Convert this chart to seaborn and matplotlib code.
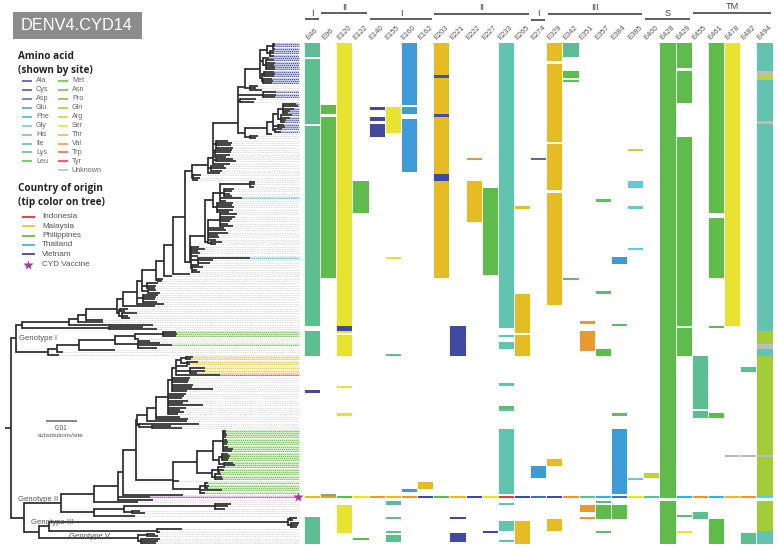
import matplotlib
matplotlib.use("Agg")
import matplotlib.pyplot as plt
from matplotlib.colors import ListedColormap
from matplotlib.patches import Rectangle
import numpy as np
import seaborn as sns

sns.set_style("white")
plt.rcParams['font.family'] = ['Liberation Sans', 'DejaVu Sans']

W, H = 779, 551
N_TIPS = 218

# ---------- amino acids ----------
AMINO = ["Ala", "Cys", "Asp", "Glu", "Phe", "Gly", "His", "Ile", "Lys", "Leu",
         "Met", "Asn", "Pro", "Gln", "Arg", "Ser", "Thr", "Val", "Trp", "Tyr", "Unknown"]
AMINO_COL = ["#3f4aa0", "#41509f", "#4a6db5", "#3f9ad8", "#2fb4e0", "#66c8d8", "#62c3ae",
             "#5dbe91", "#62bb6a", "#5fbb4b", "#5fbb4b", "#68bc45", "#7bbd3e", "#a3cc39",
             "#bed33a", "#e8e32f", "#e6bc25", "#e89a30", "#e8603a", "#e23b3b", "#bcbcbc"]

SITES = ["E46", "E96", "E120", "E122", "E140", "E155", "E160", "E162", "E203", "E221",
         "E222", "E227", "E233", "E265", "E274", "E329", "E342", "E351", "E357", "E384",
         "E385", "E400", "E428", "E429", "E455", "E461", "E478", "E482", "E494"]

# runs of tips per site: (first tip, last tip + 1, residue)
E46 = [(0, 6, "Ile"), (7, 35, "Ile"), (36, 123, "Ile"), (125, 136, "Ile"), (151, 152, "Ala"),
       (197, 198, "Thr"), (206, 218, "Ile")]
E96 = [(27, 31, "Leu"), (32, 102, "Leu"), (196, 197, "Lys"), (197, 198, "Val")]
E120 = [(0, 123, "Ser"), (123, 125, "Ala"), (125, 126, "Ser"), (127, 136, "Ser"), (149, 150, "Ser"),
        (161, 162, "Ser"), (197, 198, "Leu"), (201, 213, "Ser")]
E122 = [(60, 74, "Leu"), (197, 198, "Ser"), (215, 216, "Leu")]
E140 = [(28, 29, "Ala"), (32, 34, "Ala"), (35, 41, "Ala"), (197, 198, "Val")]
E155 = [(28, 39, "Ser"), (93, 94, "Ser"), (135, 136, "Ile"), (197, 198, "Thr"), (199, 201, "Ile"),
        (206, 207, "Ile"), (212, 213, "Ile"), (214, 217, "Ile")]
E160 = [(0, 27, "Glu"), (28, 31, "Glu"), (33, 56, "Glu"), (194, 195, "Glu"), (197, 198, "Val")]
E162 = [(191, 194, "Thr"), (197, 198, "Ala")]
E203 = [(0, 14, "Thr"), (14, 15, "Cys"), (15, 31, "Thr"), (31, 32, "Cys"), (32, 57, "Thr"),
        (57, 60, "Ala"), (60, 102, "Thr"), (197, 198, "Leu")]
E221 = [(123, 136, "Ala"), (197, 198, "Thr"), (206, 207, "Ala"), (213, 217, "Ala")]
E222 = [(50, 51, "Val"), (60, 78, "Thr"), (197, 198, "Ala")]
E227 = [(63, 101, "Leu"), (197, 198, "Ser"), (212, 213, "Ala")]
E233 = [(0, 124, "His"), (127, 128, "His"), (130, 133, "His"), (148, 149, "His"), (158, 159, "Lys"),
        (159, 160, "His"), (168, 196, "His"), (197, 198, "Tyr"), (200, 201, "His"), (208, 212, "His"),
        (216, 217, "His")]
E265 = [(71, 72, "Thr"), (109, 126, "Thr"), (127, 136, "Thr"), (197, 198, "Ala"), (208, 218, "Thr")]
E274 = [(50, 51, "Asp"), (184, 189, "Glu"), (197, 198, "Asp")]
E329 = [(0, 8, "Thr"), (9, 43, "Thr"), (44, 64, "Thr"), (65, 114, "Thr"), (181, 184, "Thr"),
        (197, 198, "Ala"), (207, 212, "Thr")]
E342 = [(0, 6, "Ile"), (12, 15, "Leu"), (16, 17, "Lys"), (102, 103, "Lys"), (197, 198, "Val")]
E351 = [(121, 122, "Val"), (125, 134, "Val"), (197, 198, "Ile"), (201, 204, "Val"), (206, 207, "Val")]
E357 = [(68, 69, "Lys"), (108, 109, "Lys"), (133, 136, "Leu"), (197, 198, "Phe"), (199, 200, "Lys"),
        (201, 207, "Leu"), (212, 213, "Lys")]
E384 = [(93, 96, "Glu"), (122, 123, "Lys"), (161, 162, "Lys"), (168, 196, "Glu"), (197, 198, "Asp"),
        (201, 207, "Leu")]
E385 = [(46, 47, "Arg"), (60, 63, "Gly"), (71, 72, "Gly"), (89, 90, "Gly"), (189, 190, "Gly"),
        (197, 198, "Ser")]
E400 = [(187, 189, "Arg"), (197, 198, "Ile")]
E428 = [(0, 198, "Leu"), (199, 218, "Leu")]
E429 = [(0, 11, "Leu"), (12, 26, "Leu"), (41, 123, "Leu"), (124, 136, "Leu"), (197, 198, "Phe"),
        (205, 206, "Lys"), (212, 213, "Ser")]
E455 = [(136, 159, "Ile"), (160, 163, "Ile"), (197, 198, "Val"), (204, 207, "Ile")]
E461 = [(0, 74, "Leu"), (76, 102, "Leu"), (123, 124, "Leu"), (161, 163, "Leu"), (197, 198, "Phe"),
        (207, 218, "Leu")]
E478 = [(0, 123, "Ser"), (179, 180, "Unknown"), (197, 198, "Thr")]
E482 = [(141, 143, "Ile"), (179, 180, "Unknown"), (197, 198, "Val"), (213, 218, "Ile")]
E494 = [(0, 12, "His"), (12, 14, "Unknown"), (14, 16, "Arg"), (16, 34, "His"), (34, 35, "Unknown"),
        (35, 125, "His"), (125, 131, "Gln"), (131, 133, "Unknown"), (133, 136, "His"), (136, 179, "Gln"),
        (179, 180, "Unknown"), (180, 197, "Gln"), (197, 198, "Gly"), (199, 212, "Gln"), (212, 218, "His")]
SITE_RUNS = [E46, E96, E120, E122, E140, E155, E160, E162, E203, E221, E222, E227, E233, E265, E274,
             E329, E342, E351, E357, E384, E385, E400, E428, E429, E455, E461, E478, E482, E494]

# ---------- sections above the sites: (label, first site, last site) ----------
SECTION_LABELS = ["I", "II", "I", "II", "I", "III", "S", "TM"]
SECTION_SPANS = [(0, 0), (1, 3), (4, 7), (8, 13), (14, 14), (15, 20), (21, 23), (24, 28)]

# ---------- tip countries ----------
COUNTRIES = ["Indonesia", "Malaysia", "Philippines", "Thailand", "Vietnam"]
COUNTRY_COL = ["#e5333c", "#ecc733", "#6cbd45", "#3fbcd8", "#3f4aa0"]
VACCINE_COL = "#a63ba0"
indonesia_tips = [144]
malaysia_tips = [136, 137, 138, 139, 141, 142, 143]
philippines_tips = [125, 126, 127, 131] + list(range(168, 190)) + list(range(191, 196))
thailand_tips = [67, 93]
vietnam_tips = list(range(0, 18)) + [21, 22, 23] + list(range(26, 39))
COUNTRY_TIPS = [indonesia_tips, malaysia_tips, philippines_tips, thailand_tips, vietnam_tips]
VACCINE_TIP = 197

# ---------- tree: [node depth or (depth, attach fraction), children...]; a bare number is a tip depth ----------
U1 = [(260, 0.7), [267, [273, 275, 275, 275], [270, 274, 274, 274]], [263, 269, [266, 274, 275, 274, 275, 275]],
      [262, [264, 274, 275, 274], [263, 272, 273, 272]]]
N245 = [(245, 0.95), U1, [250, 258, 256, 262]]
U2 = [263, 276, 276, 275]
U3 = [273, [278, [283, 296, 298, 294, 290, 288], [281, 292, 290, 286, 285]], [278, 284, 285], [275, 282, 281]]
V_B = [245, [267, U3, 272], [250, 258, 256]]
N238 = [(238, 0.8), N245, U2, [240, 256, 254], V_B]
N213 = [(213, 0.85), N238, [216, 228, 232, 231, 233], [215, 232, 231, 230], 226, [216, 233, 236], 230]
N208 = [208, N213, [211, 224, 226, 222], 220]
D = [192, N208, [193, 201, 200, 198]]
E1 = [213, [220, [250, 255, 255, 254], [224, 234, 232, 230, 232], 242, 226], [217, 233, 232, 234, 233, 229]]
E2 = [(208, 0.95), [220, 237, 235, 232, 230, 228, 233], 224, 226, 228, 218, 219, 216, [211, 222, 216]]
EE = [(205, 0.87), E1, E2]
F = [(191, 0.7), 199, 205, 198, 200, 198, [198, 250, 213, 210], [192, 199, 203, 197, 200]]
N190 = [(190, 1.0), EE, F]
N185 = [185, D, N190]
N173 = [173, N185, 190]
N164 = [164, N173, 172]
N156 = [156, N164, [158, 163, 162]]
N142 = [142, N156, [147, 158, 156, 155], [148, 156, 160]]
N137 = [137, N142, [143, 158, 156, 155, 157], 164]
N123a = [123, N137, 155]
N119 = [119, [120, 128, 125], [122, 137, 128, 130]]
N117 = [(117, 0.75), N123a, N119]
N86 = [86, N117, 103]
N78 = [78, N86, 103]
N69 = [69, N78, 153]
N22 = [22, N69, [109, 143, 157]]
GI = [48, [57, [79, [115, [135, [163, 176, 177, 176], 139], [138, 150, 160, 172, 157]], 115], 63], 59]
N16 = [16, N22, GI]

H1 = [176, [181, [186, 193, 191], [187, 198, 190]], 188, [190, 205, 205, 197], 220]
N172 = [172, H1, 190, 189, 188, 193, 192, 213, 187]
N168 = [168, N172, 186, 184, 182, 188, 183, 203, 186, 180, 184, 178]
N156b = [156, N168, 180, 188]
N147 = [147, N156b, 187]
N137b = [137, N147, [139, 199, [152, 171, 182]]]
P1 = [213, [223, 226, 226, 227, 226, 227, 228, 227, 228, 233, 232],
      [219, [222, 228, 230, 229, 228], [224, 233, 235]]]
P2 = [212, [218, 225, 224, 220], [215, 221, 222, 223]]
P3 = [200, [205, 208, 209, 208], 222, 205]
N173b = [(173, 0.65), [197, P1, P2], 179, P3]
N136 = [136, N137b, N173b]
N123b = [123, N136, 183]
N118 = [118, N123b, 150, 153]
N94a = [94, N118, 138]
N94b = [94, [124, [215, 231, 228, 225], [132, 140, 145]], 135]
N61 = [61, N94a, N94b]
G3 = [288, [290, 297, 293], [291, 299, 298, 297]]
N39 = [39, [49, G3, [157, 182, 160]], [138, [147, 155, 158], [141, 160, 158, 156]]]
N24 = [24, N61, N39]
ROOT = [11, N16, N24]
ROOT_STEM = 5
LEADER_END = 299

# ---------- legend text ----------
AMINO_TITLE = ["Amino acid", "(shown by site)"]
COUNTRY_TITLE = ["Country of origin", "(tip color on tree)"]
GENOTYPES = ["Genotype I", "Genotype II", "Genotype III", "Genotype V"]
CHART_TITLE = "DENV4.CYD14"

# ---------- figure ----------
fig = plt.figure(figsize=(W / 100, H / 100), dpi=100, facecolor="white")
TOP, BOTTOM = 43, 544.4
def rect(l, t, r, b):
    return [l / W, 1 - b / H, (r - l) / W, (b - t) / H]

# site matrix through seaborn's heatmap
matrix = np.full((N_TIPS, len(SITES)), np.nan)
for col, runs in enumerate(SITE_RUNS):
    for a, b, res in runs:
        matrix[a:b, col] = AMINO.index(res)
col_w = 16.16
ax_h = fig.add_axes(rect(312 - col_w / 2, TOP, 312 + col_w * 28.5, BOTTOM))
sns.heatmap(matrix, ax=ax_h, cmap=ListedColormap(AMINO_COL), vmin=-0.5, vmax=len(AMINO) - 0.5,
            cbar=False, xticklabels=SITES, yticklabels=False)
ax_h.tick_params(top=True, bottom=False, labeltop=True, labelbottom=False, length=0, pad=1.5)
for lab in ax_h.get_xticklabels():
    lab.set_rotation(45)
    lab.set_ha("center")
    lab.set_va("bottom")
    lab.set_fontsize(5.4)
    lab.set_color("#555555")
ax_h.vlines(np.arange(len(SITES) + 1), 0, N_TIPS, color="white", lw=0.65)
ax_h.set_facecolor("white")
for s in ax_h.spines.values():
    s.set_visible(False)

# tree
ax_t = fig.add_axes(rect(0, TOP, 303, BOTTOM))
ax_t.set_xlim(0, 303)
ax_t.set_ylim(N_TIPS, 0)
ax_t.axis("off")
TREE_COL = "#2b2b2b"
TREE_LW = 1.25
next_tip = [0]
tip_depth = {}
def layout(node, parent_x):
    if not isinstance(node, list):
        r = next_tip[0]
        next_tip[0] += 1
        y = r + 0.5
        tip_depth[r] = node
        ax_t.plot([parent_x, node], [y, y], color=TREE_COL, lw=TREE_LW, solid_capstyle="butt", zorder=3)
        return y
    x, frac = node[0] if isinstance(node[0], tuple) else (node[0], 0.5)
    ys = [layout(c, x) for c in node[1:]]
    y = ys[0] + frac * (ys[-1] - ys[0])
    ax_t.plot([x, x], [ys[0], ys[-1]], color=TREE_COL, lw=TREE_LW, solid_capstyle="projecting", zorder=3)
    ax_t.plot([parent_x, x], [y, y], color=TREE_COL, lw=TREE_LW, solid_capstyle="butt", zorder=3)
    return y
layout(ROOT, ROOT_STEM)
assert next_tip[0] == N_TIPS, next_tip[0]

tip_color = {}
for col, tips in zip(COUNTRY_COL, COUNTRY_TIPS):
    for t in tips:
        tip_color[t] = col
tip_color[VACCINE_TIP] = VACCINE_COL
for r in range(N_TIPS):
    y = r + 0.5
    if r in tip_color:
        ax_t.plot([tip_depth[r], LEADER_END], [y, y], color=tip_color[r], lw=1.5, alpha=0.28,
                  solid_capstyle="butt", zorder=1)
        ax_t.plot([tip_depth[r], LEADER_END], [y, y], color=tip_color[r], lw=0.7, ls=(0, (1, 1)), zorder=2)
    else:
        ax_t.plot([tip_depth[r], LEADER_END], [y, y], color="#cfcfcf", lw=0.6, ls=(0, (1, 1)), zorder=1)
ax_t.plot([LEADER_END - 1], [VACCINE_TIP + 0.5], marker="*", ms=7, color=VACCINE_COL, mec="none", zorder=4)

# page overlay
ax = fig.add_axes([0, 0, 1, 1])
ax.set_xlim(0, W)
ax.set_ylim(H, 0)
ax.axis("off")
ax.patch.set_alpha(0)

ax.add_patch(Rectangle((13, 12), 129, 27, color="#8c8c8c", lw=0))
ax.text(21, 26, CHART_TITLE, color="white", fontsize=11.8, va="center", ha="left")

BOLD = dict(family=["Open Sans", "DejaVu Sans"], fontweight="bold", color="#222222", fontsize=7.2, va="center")
ax.text(18.5, 56.5, AMINO_TITLE[0], **BOLD)
ax.text(18.5, 70, AMINO_TITLE[1], **BOLD)
ax.text(18.5, 188.5, COUNTRY_TITLE[0], **BOLD)
ax.text(18.5, 202, COUNTRY_TITLE[1], **BOLD)

for i, (name, col) in enumerate(zip(AMINO, AMINO_COL)):
    c = 0 if i < 10 else 1
    r = i if i < 10 else i - 10
    x0 = 22 if c == 0 else 58
    y = 81 + 8.93 * r
    ax.plot([x0, x0 + 10.5], [y, y], color=col, lw=1.1, solid_capstyle="butt")
    ax.text(x0 + 14, y, name, color="#666666", fontsize=5.2, va="center")

for i, (name, col) in enumerate(zip(COUNTRIES, COUNTRY_COL)):
    y = 216.7 + 9.42 * i
    ax.plot([22, 35], [y, y], color=col, lw=1.3, solid_capstyle="butt")
    ax.text(42, y, name, color="#555555", fontsize=5.9, va="center")
ax.plot([28.5], [264.7], marker="*", ms=7.5, color=VACCINE_COL, mec="none")
ax.text(42, 264.7, "CYD Vaccine", color="#555555", fontsize=5.9, va="center")

ax.plot([45.7, 76.7], [420.7, 420.7], color="#666666", lw=1.1, solid_capstyle="butt")
ax.text(61, 428, "0.01", color="#555555", fontsize=4.8, ha="center", va="center")
ax.text(61, 435.8, "substitutions/site", color="#555555", fontsize=4.4, ha="center", va="center")

for name, x, y in zip(GENOTYPES, [19, 17.7, 30.7, 69.3], [339, 499.3, 522.3, 536]):
    ax.text(x, y, name, color="#555555", fontsize=5.6, va="center")

# section bars
bar_y = [19.3, 12.5, 18.5, 13.5, 20, 13.5, 19, 13]
lab_y = [13, 7, 13, 7, 13, 7, 13, 6.5]
for name, (a, b), by, ly in zip(SECTION_LABELS, SECTION_SPANS, bar_y, lab_y):
    x0 = 312 + col_w * (a - 0.42)
    x1 = 312 + col_w * (b + 0.42)
    ax.plot([x0, x1], [by, by], color="#333333", lw=1.1, solid_capstyle="butt")
    ax.text((x0 + x1) / 2, ly, name, color="#444444", fontsize=6.6, ha="center", va="center")

fig.savefig("out.png", dpi=100, facecolor="white")
